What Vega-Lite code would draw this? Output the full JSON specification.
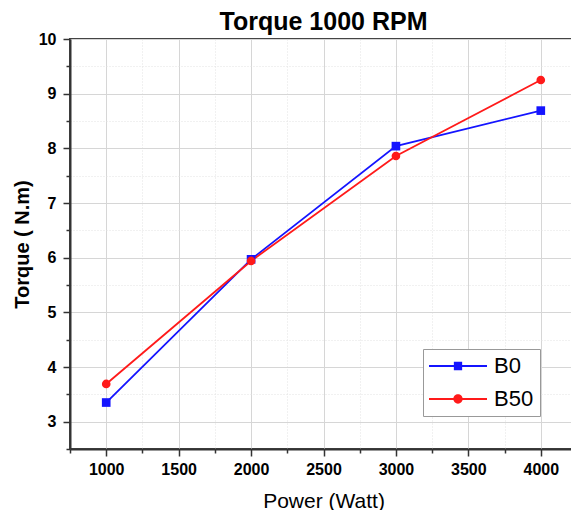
{
  "$schema": "https://vega.github.io/schema/vega-lite/v6.json",
  "width": 507,
  "height": 410,
  "autosize": {"type": "none"},
  "padding": {"left": 70, "top": 39, "right": 0, "bottom": 61},
  "title": {"text": "Torque 1000 RPM", "font": "Liberation Sans", "fontSize": 25, "fontWeight": "bold", "color": "#000", "offset": 0, "dy": 4, "anchor": "middle"},
  "config": {
    "view": {"stroke": "#444", "strokeWidth": 2},
    "font": "Liberation Sans"
  },
  "data": {"values": [
    {"power": 1000, "torque": 3.35, "series": "B0"},
    {"power": 2000, "torque": 5.97, "series": "B0"},
    {"power": 3000, "torque": 8.04, "series": "B0"},
    {"power": 4000, "torque": 8.69, "series": "B0"},
    {"power": 1000, "torque": 3.69, "series": "B50"},
    {"power": 2000, "torque": 5.94, "series": "B50"},
    {"power": 3000, "torque": 7.86, "series": "B50"},
    {"power": 4000, "torque": 9.25, "series": "B50"}
  ]},
  "encoding": {
    "x": {"field": "power", "type": "quantitative",
      "scale": {"domain": [750, 4250], "nice": false, "zero": false},
      "axis": {
        "title": "Power (Watt)", "titleFont": "Liberation Sans", "titleFontSize": 21, "titleFontWeight": "normal", "titleColor": "#000", "titlePadding": 13,
        "values": [750,1000,1250,1500,1750,2000,2250,2500,2750,3000,3250,3500,3750,4000,4250],
        "format": "d",
        "labelExpr": "datum.value % 500 === 0 && datum.value >= 1000 && datum.value <= 4000 ? datum.label : ''",
        "labelFont": "Liberation Sans", "labelFontSize": 16, "labelFontWeight": "bold", "labelColor": "#000", "labelPadding": 5,
        "domainColor": "#333", "domainWidth": 2,
        "tickColor": "#333", "tickWidth": 1.5,
        "tickSize": {"condition": {"test": "datum.value % 500 !== 0", "value": 4}, "value": 7},
        "gridColor": {"condition": {"test": "datum.value % 500 !== 0", "value": "#e2e2e2"}, "value": "#d6d6d6"},
        "gridDash": {"condition": {"test": "datum.value % 500 !== 0", "value": [1, 2]}, "value": []},
        "gridWidth": 1
      }
    },
    "y": {"field": "torque", "type": "quantitative",
      "scale": {"domain": [2.5, 10], "nice": false, "zero": false},
      "axis": {
        "title": "Torque ( N.m)", "titleFont": "Liberation Sans", "titleFontSize": 20, "titleFontWeight": "bold", "titleColor": "#000", "titlePadding": 6,
        "values": [2.5,3,3.5,4,4.5,5,5.5,6,6.5,7,7.5,8,8.5,9,9.5,10],
        "labelExpr": "datum.value % 1 === 0 && datum.value >= 3 ? format(datum.value, 'd') : ''",
        "labelFont": "Liberation Sans", "labelFontSize": 16, "labelFontWeight": "bold", "labelColor": "#000", "labelPadding": 7,
        "domainColor": "#333", "domainWidth": 2,
        "tickColor": "#333", "tickWidth": 1.5,
        "tickSize": {"condition": {"test": "datum.value % 1 !== 0", "value": 4}, "value": 7},
        "gridColor": {"condition": {"test": "datum.value % 1 !== 0", "value": "#e2e2e2"}, "value": "#d6d6d6"},
        "gridDash": {"condition": {"test": "datum.value % 1 !== 0", "value": [1, 2]}, "value": []},
        "gridWidth": 1
      }
    },
    "color": {"field": "series", "type": "nominal",
      "scale": {"domain": ["B0", "B50"], "range": ["#1414ff", "#ff1a1a"]},
      "legend": {
        "title": null, "orient": "none", "legendX": 353, "legendY": 310,
        "padding": 6, "fillColor": "#ffffff", "strokeColor": "#999",
        "labelFont": "Liberation Sans", "labelFontSize": 22, "labelColor": "#000", "labelOffset": 43,
        "symbolSize": 400, "symbolStrokeWidth": 0, "rowPadding": 11,
        "encode": {"symbols": {"update": {
          "shape": {"signal": "datum.value === 'B0' ? 'M-1.1,-0.1H4.7V0.1H-1.1Z M1.385,-0.415H2.215V0.415H1.385Z' : 'M-1.1,-0.1H4.7V0.1H-1.1Z M1.335,0A0.465,0.465 0 1,1 2.265,0A0.465,0.465 0 1,1 1.335,0Z'"},
          "fill": {"scale": "color", "field": "value"},
          "fillOpacity": {"value": 1},
          "stroke": {"value": "transparent"},
          "strokeWidth": {"value": 0}
        }}}
      }
    }
  },
  "layer": [
    {"mark": {"type": "line", "strokeWidth": 1.8}},
    {"transform": [{"filter": "datum.series === 'B0'"}],
     "mark": {"type": "point", "shape": "square", "filled": true, "opacity": 1, "size": 75}},
    {"transform": [{"filter": "datum.series === 'B50'"}],
     "mark": {"type": "point", "shape": "circle", "filled": true, "opacity": 1, "size": 75}}
  ]
}
